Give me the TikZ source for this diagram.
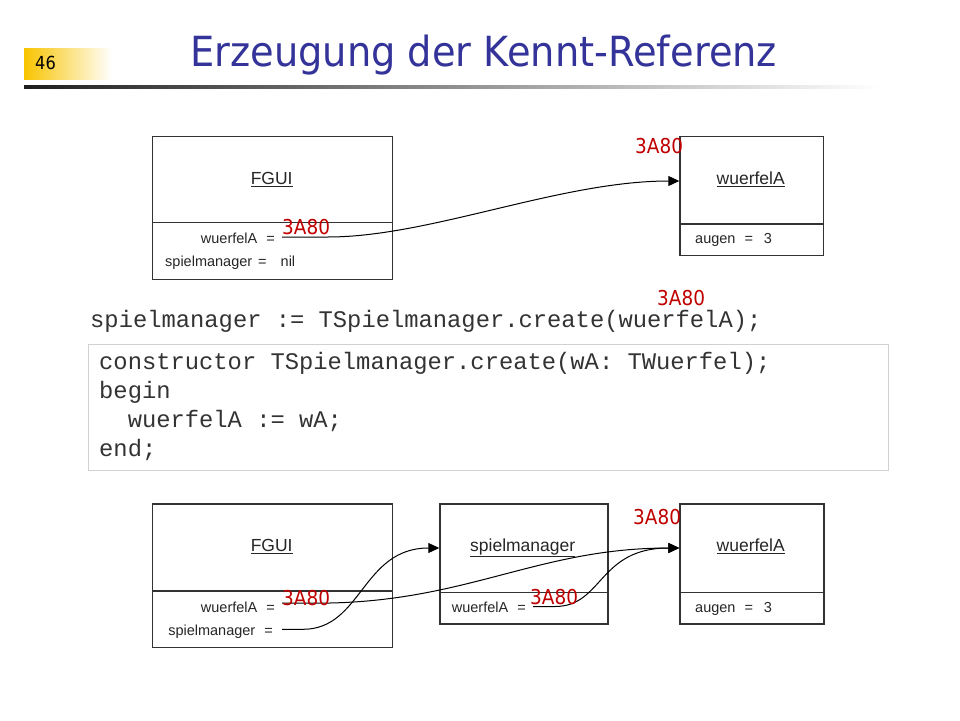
\documentclass[tikz,border=0pt]{standalone}
\usepackage{fontspec}
\setmainfont{Liberation Sans}
\newfontfamily\tah[FakeStretch=0.9]{DejaVu Sans}
\newfontfamily\tahtitle[FakeStretch=0.925]{DejaVu Sans}
\newfontfamily\codefont{Liberation Mono}
\usetikzlibrary{arrows.meta}
\definecolor{titleblue}{RGB}{51,51,153}
\definecolor{addrred}{RGB}{192,0,0}
\definecolor{gold}{RGB}{248,196,0}
\tikzset{
  umlbox/.style={draw=black!80, line width=1.3pt, fill=white, inner sep=0pt, anchor=north west},
  divider/.style={draw=black!80, line width=1.3pt},
  cls/.style={font=\fontsize{17.5}{20}\selectfont, anchor=base, text=black!85, inner sep=0pt},
  attrw/.style={font=\fontsize{14.5}{17}\selectfont, anchor=base west, text=black!85, inner sep=0pt},
  attre/.style={font=\fontsize{14.5}{17}\selectfont, anchor=base east, text=black!85, inner sep=0pt},
  addr/.style={font=\tah\fontsize{20.5}{24}\selectfont, text=addrred, anchor=base west, inner sep=0pt},
  codeline/.style={font=\codefont\fontsize{23.8}{29}\selectfont, anchor=base west, inner sep=0pt, text=black!80},
  ref/.style={draw=black, line width=1pt},
  refarrow/.style={ref, -{Triangle[length=11pt,width=10pt]}},
}
\begin{document}
\begin{tikzpicture}[x=1pt,y=-1pt]
\useasboundingbox (0,0) rectangle (960,720);
\fill[white] (0,0) rectangle (960,720);

% header
\shade[left color=gold, right color=white] (24,48) rectangle (112,79);
\node[font=\tah\fontsize{18}{20}\selectfont, anchor=base west, inner sep=0pt] (pagenum) at (35,69.5) {46};
\node[font=\tahtitle\fontsize{41.5}{46}\selectfont, text=titleblue, anchor=base west, inner sep=0pt] (title) at (190,66) {Erzeugung der Kennt-Referenz};
\shade[left color=black!88, right color=white] (24,85) rectangle (880,88.3);

% ---------- top diagram ----------
\node[umlbox, minimum width=240pt, minimum height=143.3pt] (fgui1) at (151.7,135.7) {};
\draw[divider] (151.7,222.7) -- (391.7,222.7);
\node[cls] (fgui1name) at (271.7,184.3) {\underline{FGUI}};
\node[attre] (fgui1a) at (275,243) {wuerfelA\hspace{9pt}=};
\node[attrw] (fgui1b) at (165,266.5) {spielmanager\hspace{6pt}=\hspace{14pt}nil};

\node[umlbox, minimum width=143.4pt, minimum height=119.3pt] (wA1) at (679.3,135.7) {};
\draw[divider] (679.3,224) -- (822.7,224);
\node[cls] (wA1name) at (750.7,184.3) {\underline{wuerfelA}};
\node[attrw] (wA1a) at (695,243) {augen\hspace{9pt}=\hspace{11pt}3};

\coordinate (src1) at (282,237);
\coordinate (dst1) at (679.3,181);
\draw[refarrow] (src1) -- (328,237) .. controls (430,237) and (560,181) .. (dst1);

\node[addr] (addr1) at (282,234.2) {3A80};
\node[addr] (addr2) at (635,153.2) {3A80};

% ---------- code ----------
\node[addr] (addr3) at (657,305.5) {3A80};
\node[codeline] (call) at (90,327) {spielmanager := TSpielmanager.create(wuerfelA);};
\node[draw=black!18, line width=1pt, fill=none, inner sep=0pt, minimum width=800pt, minimum height=126pt, anchor=north west] (codebox) at (88,344) {};
\node[codeline] (c1) at (99,369) {constructor TSpielmanager.create(wA: TWuerfel);};
\node[codeline] (c2) at (99,398) {begin};
\node[codeline] (c3) at (99,427) {\ \ wuerfelA := wA;};
\node[codeline] (c4) at (99,456) {end;};

% ---------- bottom diagram ----------
\node[umlbox, minimum width=240pt, minimum height=143.4pt] (fgui2) at (151.7,503.3) {};
\draw[divider] (151.7,591) -- (391.7,591);
\node[cls] (fgui2name) at (271.7,551.5) {\underline{FGUI}};
\node[attre] (fgui2a) at (275,612) {wuerfelA\hspace{9pt}=};
\node[attre] (fgui2b) at (273,635.5) {spielmanager\hspace{9pt}=};

\node[umlbox, minimum width=168pt, minimum height=120pt] (sm2) at (439.3,503.3) {};
\draw[divider] (439.3,592.7) -- (607.3,592.7);
\node[cls] (sm2name) at (522.7,551.5) {\underline{spielmanager}};
\node[attrw] (sm2a) at (451.7,612) {wuerfelA\hspace{9pt}=};

\node[umlbox, minimum width=144pt, minimum height=120pt] (wA2) at (679.3,503.3) {};
\draw[divider] (679.3,592.7) -- (823.3,592.7);
\node[cls] (wA2name) at (750.7,551.5) {\underline{wuerfelA}};
\node[attrw] (wA2a) at (695,612) {augen\hspace{9pt}=\hspace{11pt}3};

\coordinate (src2) at (282,603);
\coordinate (src3) at (282,629.3);
\coordinate (src4) at (533,606.5);
\coordinate (dstsm) at (439.3,548);
\coordinate (dst2) at (679.3,548);
\draw[refarrow] (src2) -- (330,603) .. controls (470,600) and (540,548) .. (dst2);
\draw[refarrow] (src3) -- (303,629.3) .. controls (362,629.3) and (362,548) .. (dstsm);
\draw[refarrow] (src4) -- (555,606.5) .. controls (603,606.5) and (598,548) .. (dst2);

\node[addr] (addr4) at (282,605.5) {3A80};
\node[addr] (addr5) at (530,604.2) {3A80};
\node[addr] (addr6) at (633,524.2) {3A80};
\end{tikzpicture}
\end{document}
